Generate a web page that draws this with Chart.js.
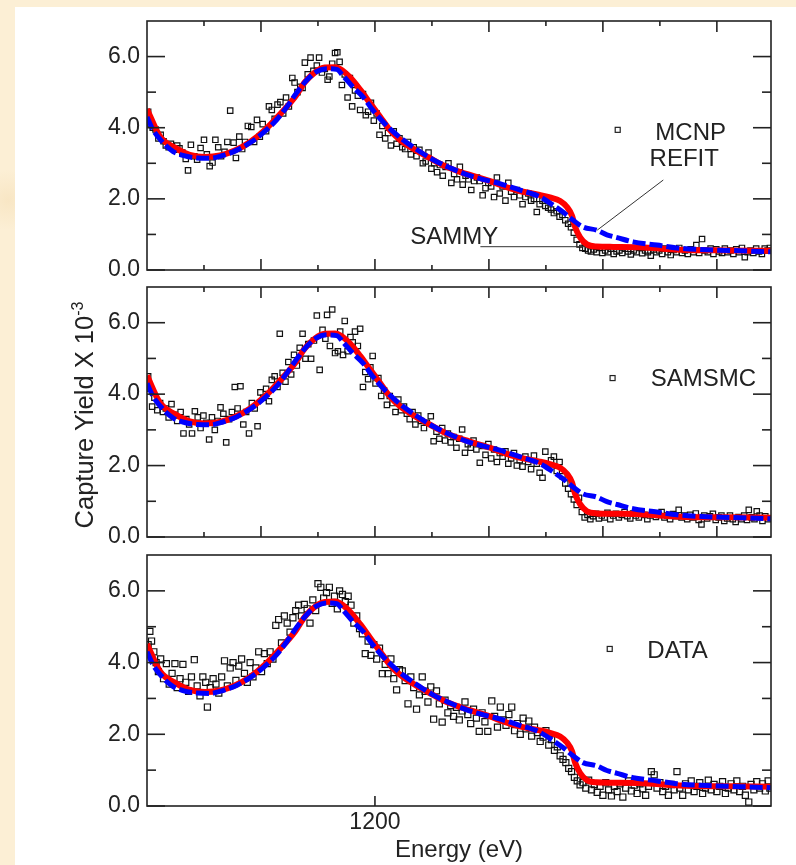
<!DOCTYPE html>
<html>
<head>
<meta charset="utf-8">
<script src="https://cdn.jsdelivr.net/npm/chart.js@4.4.0/dist/chart.umd.min.js"></script>
<style>
  html, body { margin: 0; padding: 0; }
  body {
    width: 796px; height: 865px; position: relative; overflow: hidden;
    background: #fcefd5;
    background-image: radial-gradient(circle at 8px 200px, #f8e6c4 0, #fcefd5 30px),
                      radial-gradient(circle at 6px 600px, #f9e8c8 0, #fcefd5 40px);
  }
  #paper { position: absolute; left: 15px; top: 7px; width: 781px; height: 858px; background: #fff; }
  canvas { position: absolute; left: 15px; }
  #ytitle {
    position: absolute; left: -60px; top: 400px; width: 290px; height: 30px;
    line-height: 30px; text-align: center; white-space: nowrap;
    font: 25.5px "Liberation Sans", Arial, sans-serif; color: #222;
    transform: rotate(-90deg);
  }
  #ytitle sup { font-size: 16px; vertical-align: 10px; line-height: 0; }
</style>
</head>
<body>
<div id="paper"></div>
<canvas id="c1" width="781" height="300" style="top:0px"></canvas>
<canvas id="c2" width="781" height="296" style="top:266px"></canvas>
<canvas id="c3" width="781" height="331" style="top:534px"></canvas>
<div id="ytitle">Capture Yield X 10<sup>-3</sup></div>
<script>
// SAMMY fit (red) and REFIT (blue), energy in eV, yield x 1e-3
const sammyE = [1160.0, 1162.3, 1164.9, 1167.5, 1170.2, 1172.8, 1175.4, 1178.1, 1180.7, 1183.3, 1186.0, 1187.7,
  1189.5, 1191.2, 1193.0, 1193.9, 1195.6, 1197.4, 1199.1, 1200.9, 1202.6, 1204.4, 1207.0, 1209.6, 1212.3, 1214.9,
  1217.5, 1220.2, 1222.0, 1225.4, 1228.9, 1230.7, 1232.5, 1233.7, 1234.6, 1235.1, 1236.0, 1237.2, 1238.9, 1241.8,
  1246.5, 1253.5, 1262.0, 1269.5];
const sammyY = [4.52, 3.75, 3.44, 3.24, 3.18, 3.22, 3.36, 3.6, 3.94, 4.37, 4.87, 5.28,
  5.56, 5.69, 5.7, 5.65, 5.42, 5.07, 4.7, 4.31, 3.94, 3.66, 3.38, 3.15, 2.92, 2.76,
  2.63, 2.5, 2.39, 2.22, 2.11, 2.04, 1.94, 1.77, 1.52, 1.22, 0.92, 0.72, 0.66, 0.65,
  0.64, 0.57, 0.55, 0.54];

const refitE = [1160.0, 1161.05, 1162.8, 1164.6, 1166.3, 1168.8, 1171.1, 1173.3, 1175.8, 1178.1, 1180.4, 1182.8,
  1184.6, 1186.3, 1188.1, 1189.8, 1191.6, 1193.3, 1194.4, 1196.1, 1197.9, 1199.6, 1201.4, 1203.2, 1204.9, 1207.4,
  1210.2, 1213.2, 1216.1, 1218.9, 1221.9, 1225.4, 1228.9, 1231.2, 1233.0, 1234.7, 1236.5, 1238.9, 1240.7, 1242.5,
  1245.3, 1249.5, 1253.0, 1258.2, 1264.0, 1269.5];
const refitY = [4.3, 3.94, 3.58, 3.33, 3.22, 3.15, 3.14, 3.22, 3.37, 3.58, 3.86, 4.23,
  4.6, 4.99, 5.35, 5.58, 5.66, 5.64, 5.46, 5.15, 4.87, 4.5, 4.17, 3.89, 3.66, 3.38,
  3.1, 2.87, 2.68, 2.55, 2.43, 2.25, 2.06, 1.83, 1.63, 1.41, 1.21, 1.12, 0.99, 0.91,
  0.79, 0.7, 0.62, 0.57, 0.54, 0.51];

// simulated / measured yields [E, yield]
const mcnp = [[1160.2,4.45],[1160.6,4.1],[1161.0,4.0],[1161.5,3.95],[1162.0,3.7],[1162.4,3.8],[1162.9,3.62],[1163.3,3.5],
  [1163.8,3.45],[1164.2,3.55],[1164.8,3.38],[1165.3,3.5],[1165.7,3.42],[1166.2,3.3],[1166.8,3.12],[1167.2,2.8],
  [1167.7,3.52],[1168.3,3.2],[1168.8,3.1],[1169.4,3.43],[1170.0,3.66],[1170.5,3.25],[1171.0,2.92],[1171.5,3.02],
  [1172.0,3.66],[1172.5,3.45],[1173.0,3.2],[1173.6,3.32],[1174.1,3.6],[1174.6,4.48],[1175.2,3.58],[1175.6,3.15],
  [1176.2,3.75],[1176.7,3.4],[1177.2,3.6],[1177.7,4.05],[1178.3,4.02],[1178.8,3.6],[1179.3,4.22],[1179.8,3.75],
  [1180.3,4.1],[1180.9,3.9],[1181.4,4.6],[1181.9,4.5],[1182.4,4.25],[1182.9,4.65],[1183.4,4.72],[1183.9,4.4],
  [1184.4,4.85],[1184.9,4.6],[1185.5,5.4],[1185.9,5.27],[1186.4,5.0],[1186.9,5.15],[1187.3,5.12],[1187.7,5.83],
  [1188.2,5.5],[1188.7,5.97],[1189.2,5.6],[1189.8,5.75],[1190.2,5.97],[1190.7,5.55],[1191.2,5.65],[1191.7,5.35],
  [1192.0,5.44],[1192.5,5.8],[1193.0,6.1],[1193.4,6.12],[1193.8,5.85],[1194.2,5.2],[1194.7,5.5],[1195.2,4.85],
  [1195.6,5.4],[1196.0,4.6],[1196.5,5.05],[1197.0,4.9],[1197.4,4.5],[1197.9,4.95],[1198.4,4.35],[1198.8,4.45],
  [1199.3,4.7],[1199.8,4.2],[1200.3,4.4],[1200.8,3.8],[1201.3,4.05],[1201.8,3.7],[1202.3,3.85],[1202.8,3.5],
  [1203.3,3.9],[1203.8,3.55],[1204.3,3.7],[1204.8,3.45],[1205.3,3.4],[1205.8,3.6],[1206.3,3.25],[1206.8,3.45],
  [1207.3,3.2],[1207.8,3.38],[1208.4,3.0],[1208.9,3.05],[1209.4,3.3],[1209.9,2.85],[1210.4,3.0],[1210.9,2.75],
  [1211.4,2.95],[1211.9,2.65],[1212.4,2.9],[1212.9,3.0],[1213.4,2.45],[1213.9,2.7],[1214.4,2.55],[1214.9,2.9],
  [1215.4,2.4],[1215.9,2.65],[1216.4,2.55],[1216.9,2.25],[1217.4,2.5],[1217.9,2.6],[1218.4,2.5],[1218.9,2.1],
  [1219.4,2.3],[1219.9,2.45],[1220.4,2.35],[1220.9,2.05],[1221.4,2.6],[1221.9,2.15],[1222.4,2.35],[1222.9,1.95],
  [1223.4,2.45],[1223.9,2.2],[1224.4,2.05],[1224.9,2.25],[1225.4,2.1],[1225.9,1.85],[1226.4,2.05],[1226.9,2.15],
  [1227.4,1.95],[1227.9,2.0],[1228.4,1.63],[1228.9,1.85],[1229.4,1.95],[1229.9,1.8],[1230.4,1.75],[1230.9,1.7],
  [1231.4,1.6],[1231.9,1.65],[1232.4,1.5],[1232.9,1.55],[1233.4,1.4],[1233.9,1.3],[1234.4,1.2],[1234.9,1.05],
  [1235.4,0.85],[1235.9,0.72],[1236.4,0.62],[1236.9,0.6],[1237.4,0.55],[1237.9,0.52],[1238.4,0.58],[1238.9,0.5],
  [1239.4,0.62],[1239.9,0.48],[1240.4,0.55],[1240.9,0.5],[1241.4,0.6],[1241.9,0.45],[1242.4,0.52],[1242.9,0.55],
  [1243.4,0.48],[1243.9,0.6],[1244.4,0.52],[1244.9,0.44],[1245.4,0.55],[1245.9,0.5],[1246.4,0.62],[1246.9,0.47],
  [1247.4,0.55],[1247.9,0.5],[1248.4,0.4],[1248.9,0.58],[1249.4,0.5],[1249.9,0.55],[1250.4,0.45],[1250.9,0.6],
  [1251.4,0.5],[1251.9,0.42],[1252.4,0.56],[1252.9,0.5],[1253.4,0.62],[1253.9,0.48],[1254.4,0.55],[1254.9,0.45],
  [1255.4,0.58],[1255.9,0.5],[1256.4,0.7],[1256.9,0.48],[1257.4,0.87],[1257.9,0.55],[1258.4,0.5],[1258.9,0.6],
  [1259.4,0.45],[1259.9,0.58],[1260.4,0.52],[1260.9,0.48],[1261.4,0.6],[1261.9,0.5],[1262.4,0.55],[1262.9,0.45],
  [1263.4,0.58],[1263.9,0.5],[1264.4,0.62],[1264.9,0.36],[1265.4,0.5],[1265.9,0.55],[1266.4,0.48],[1266.9,0.6],
  [1267.4,0.52],[1267.9,0.45],[1268.4,0.6],[1268.9,0.55],[1269.3,0.62]];

const samsmc = [[1160.2,4.5],[1160.5,4.15],[1160.9,3.65],[1161.3,3.9],[1161.8,3.55],[1162.3,3.75],[1162.8,3.5],
  [1163.3,3.6],[1163.8,3.35],[1164.3,3.72],[1164.8,3.42],[1165.3,3.25],[1165.9,3.5],[1166.4,2.9],[1166.9,3.3],
  [1167.4,3.15],[1167.9,2.9],[1168.4,3.52],[1168.9,3.35],[1169.4,3.05],[1169.9,3.4],[1170.4,3.2],[1170.9,2.73],
  [1171.4,3.35],[1171.9,3.0],[1172.4,3.25],[1172.9,3.63],[1173.4,3.45],[1173.9,2.65],[1174.4,3.3],[1174.9,3.5],
  [1175.4,4.2],[1175.9,3.6],[1176.4,4.22],[1176.9,3.15],[1177.4,3.5],[1177.9,2.9],[1178.4,3.75],[1178.9,3.6],
  [1179.4,3.1],[1179.9,4.05],[1180.4,3.9],[1180.9,4.15],[1181.4,3.8],[1181.9,4.4],[1182.4,4.5],[1182.9,4.2],
  [1183.3,5.69],[1183.8,4.6],[1184.3,4.35],[1184.8,4.9],[1185.3,4.55],[1185.8,5.1],[1186.3,4.8],[1186.8,5.3],
  [1187.3,5.69],[1187.8,4.99],[1188.3,5.4],[1188.8,4.99],[1189.3,5.5],[1189.8,6.2],[1190.3,4.68],[1190.8,5.8],
  [1191.3,5.55],[1191.6,6.22],[1192.1,5.35],[1192.5,6.37],[1193.0,5.15],[1193.5,5.2],[1193.9,5.75],[1194.4,5.1],
  [1194.7,6.05],[1195.2,5.2],[1195.7,5.6],[1196.1,5.45],[1196.5,5.75],[1197.0,5.35],[1197.4,5.83],[1197.9,4.2],
  [1198.3,4.62],[1198.8,4.42],[1199.2,4.75],[1199.6,5.07],[1200.1,4.3],[1200.6,4.45],[1201.1,3.95],[1201.6,4.1],
  [1202.1,3.7],[1202.6,3.95],[1203.1,3.75],[1203.6,3.5],[1204.1,3.85],[1204.6,3.55],[1205.1,3.65],[1205.6,3.45],
  [1206.1,3.3],[1206.6,3.5],[1207.1,3.15],[1207.6,3.4],[1208.1,3.25],[1208.6,3.05],[1209.1,3.2],[1209.8,3.38],
  [1210.3,2.68],[1210.8,2.95],[1211.3,2.75],[1211.8,3.05],[1212.3,2.7],[1212.8,2.9],[1213.3,2.65],[1213.8,2.8],
  [1214.3,2.5],[1214.8,2.75],[1215.3,3.01],[1215.8,2.36],[1216.3,2.6],[1216.8,2.5],[1217.3,2.7],[1217.8,2.45],
  [1218.4,2.08],[1218.9,2.55],[1219.4,2.3],[1219.9,2.6],[1220.4,2.2],[1220.9,2.45],[1221.4,2.1],[1221.9,2.35],
  [1222.4,2.25],[1222.9,2.4],[1223.4,2.05],[1223.9,2.2],[1224.4,2.35],[1224.9,2.0],[1225.4,2.15],[1225.9,1.97],
  [1226.4,2.25],[1226.9,2.1],[1227.4,1.9],[1227.9,2.28],[1228.4,2.05],[1228.9,1.8],[1229.4,1.66],[1229.9,2.39],
  [1230.4,2.0],[1230.9,2.15],[1231.4,2.25],[1231.9,1.85],[1232.4,2.1],[1232.9,1.7],[1233.4,1.5],[1233.9,1.35],
  [1234.4,1.2],[1234.9,1.05],[1235.4,0.9],[1235.8,1.1],[1236.3,0.7],[1236.8,0.55],[1237.3,0.62],[1237.8,0.5],
  [1238.3,0.58],[1238.8,0.65],[1239.3,0.52],[1239.8,0.6],[1240.3,0.55],[1240.8,0.68],[1241.3,0.5],[1241.8,0.6],
  [1242.3,0.65],[1242.8,0.55],[1243.3,0.62],[1243.8,0.7],[1244.3,0.58],[1244.8,0.52],[1245.3,0.66],[1245.8,0.6],
  [1246.3,0.55],[1246.8,0.7],[1247.3,0.62],[1247.8,0.5],[1248.3,0.6],[1248.8,0.66],[1249.3,0.56],[1249.8,0.62],
  [1250.3,0.7],[1250.8,0.55],[1251.3,0.6],[1251.8,0.5],[1252.3,0.64],[1252.8,0.58],[1253.3,0.76],[1253.8,0.55],
  [1254.3,0.6],[1254.8,0.5],[1255.3,0.62],[1255.8,0.55],[1256.3,0.66],[1256.8,0.48],[1257.3,0.35],[1257.8,0.6],
  [1258.3,0.52],[1258.8,0.58],[1259.3,0.65],[1259.8,0.48],[1260.3,0.55],[1260.8,0.6],[1261.3,0.45],[1261.8,0.52],
  [1262.3,0.6],[1262.8,0.5],[1263.3,0.42],[1263.8,0.56],[1264.3,0.5],[1264.8,0.6],[1265.3,0.48],[1265.6,0.76],
  [1266.1,0.55],[1266.6,0.5],[1267.0,0.72],[1267.5,0.6],[1268.0,0.45],[1268.5,0.58],[1269.0,0.5]];

const data = [[1160.2,4.5],[1160.5,4.87],[1160.8,4.6],[1161.2,4.3],[1161.6,4.0],[1162.0,3.75],[1162.4,4.1],
  [1162.9,3.55],[1163.4,3.97],[1163.9,3.4],[1164.4,3.7],[1164.9,3.97],[1165.3,3.3],[1165.8,3.55],[1166.3,3.95],
  [1166.8,3.45],[1167.3,3.2],[1167.8,3.6],[1168.3,4.08],[1168.8,3.35],[1169.3,3.07],[1169.8,3.6],[1170.3,3.45],
  [1170.6,2.76],[1171.1,3.3],[1171.6,3.55],[1172.1,3.4],[1172.6,3.15],[1173.1,3.6],[1173.6,4.05],[1174.1,3.35],
  [1174.6,3.85],[1175.1,4.0],[1175.6,3.5],[1176.1,3.9],[1176.6,4.1],[1177.1,3.7],[1177.6,3.45],[1178.1,4.0],
  [1178.6,3.6],[1179.1,3.85],[1179.6,4.3],[1180.1,3.75],[1180.6,4.25],[1181.1,3.97],[1181.6,4.3],[1182.1,4.1],
  [1182.6,5.04],[1183.1,5.2],[1183.6,4.55],[1184.1,5.3],[1184.6,5.1],[1185.1,4.85],[1185.6,5.25],[1186.1,5.45],
  [1186.6,5.6],[1187.1,5.3],[1187.6,5.62],[1188.1,5.5],[1188.6,5.1],[1189.1,5.75],[1189.6,5.45],[1190.0,6.2],
  [1190.5,6.1],[1191.0,5.8],[1191.5,5.95],[1192.0,6.1],[1192.5,5.65],[1192.9,5.85],[1193.4,5.5],[1193.8,6.0],
  [1194.3,5.9],[1194.8,5.7],[1195.3,5.85],[1195.8,5.6],[1196.3,5.1],[1196.8,5.3],[1197.3,4.95],[1197.8,4.8],
  [1198.3,4.25],[1198.8,4.6],[1199.3,4.2],[1199.8,4.5],[1200.3,4.1],[1200.8,4.4],[1201.3,3.69],[1201.8,3.95],
  [1202.3,3.69],[1202.8,4.1],[1203.3,3.55],[1203.8,3.24],[1204.3,3.8],[1204.8,3.77],[1205.3,3.5],[1205.8,2.85],
  [1206.3,3.6],[1206.8,3.3],[1207.3,2.7],[1207.8,3.1],[1208.3,3.6],[1208.8,3.2],[1209.3,2.9],[1209.8,3.32],
  [1210.3,2.42],[1210.8,3.21],[1211.3,2.85],[1211.8,2.34],[1212.3,2.95],[1212.8,2.6],[1213.3,2.8],[1213.8,2.5],
  [1214.3,2.75],[1214.8,2.4],[1215.3,2.65],[1215.8,2.9],[1216.3,2.55],[1216.8,2.3],[1217.3,2.7],[1217.8,2.45],
  [1218.3,2.08],[1218.8,2.6],[1219.3,2.35],[1219.8,2.08],[1220.5,2.93],[1221.0,2.5],[1221.5,2.2],[1222.0,2.76],
  [1222.5,2.4],[1223.0,2.25],[1223.5,2.55],[1224.0,2.76],[1224.5,2.1],[1225.0,2.3],[1225.5,2.0],[1226.0,2.45],
  [1226.5,2.15],[1227.0,2.37],[1227.5,1.95],[1228.0,2.2],[1228.5,2.05],[1229.0,1.8],[1229.5,1.92],[1230.0,2.1],
  [1230.5,1.7],[1231.0,1.85],[1231.5,1.55],[1232.0,1.65],[1232.5,1.4],[1233.0,1.3],[1233.5,1.21],[1234.0,1.05],
  [1234.5,0.96],[1235.0,0.8],[1235.5,0.7],[1236.0,0.59],[1236.5,0.65],[1237.0,0.5],[1237.5,0.72],[1238.0,0.45],
  [1238.5,0.6],[1239.0,0.38],[1239.5,0.55],[1240.0,0.3],[1240.5,0.65],[1241.0,0.45],[1241.5,0.28],[1242.0,0.55],
  [1242.5,0.4],[1243.0,0.62],[1243.5,0.25],[1244.0,0.5],[1244.5,0.7],[1245.0,0.42],[1245.5,0.58],[1246.0,0.35],
  [1246.5,0.62],[1247.0,0.48],[1247.5,0.3],[1248.0,0.55],[1248.5,0.96],[1249.0,0.87],[1249.5,0.5],[1250.0,0.65],
  [1250.5,0.4],[1251.0,0.55],[1251.5,0.3],[1252.0,0.6],[1252.5,0.45],[1253.0,0.96],[1253.5,0.5],[1254.0,0.3],
  [1254.5,0.62],[1255.0,0.45],[1255.5,0.7],[1256.0,0.4],[1256.5,0.55],[1257.0,0.65],[1257.5,0.35],[1258.0,0.5],
  [1258.5,0.72],[1259.0,0.45],[1259.5,0.6],[1260.0,0.4],[1260.5,0.55],[1261.0,0.68],[1261.5,0.35],[1262.0,0.5],
  [1262.5,0.62],[1263.0,0.45],[1263.5,0.7],[1264.0,0.4],[1264.5,0.55],[1265.0,0.3],[1265.6,0.11],[1266.0,0.6],
  [1266.5,0.45],[1267.0,0.68],[1267.5,0.5],[1268.0,0.62],[1268.5,0.42],[1269.0,0.7],[1269.3,0.5]];

// axis ticks
const yMajor = [0, 2, 4, 6];
const yLabels = ['0.0', '2.0', '4.0', '6.0'];
const yMinor = [1, 3, 5];
const xMajor = [1180, 1200, 1220, 1240, 1260];
const xMinor = [1170, 1190, 1210, 1230, 1250];
const xLabeled = [1200];

Chart.defaults.font.family = '"Liberation Sans", Arial, sans-serif';
Chart.defaults.color = '#222';

const toXY = (es, ys) => es.map((e, i) => ({ x: e, y: ys[i] }));
const toPts = arr => arr.map(p => ({ x: p[0], y: p[1] }));

// frame, inward ticks, legend and labels
const framePlugin = {
  id: 'frame',
  afterDraw(chart, args, o) {
    const { ctx, chartArea: a, scales: { x, y } } = chart;
    ctx.save();
    ctx.strokeStyle = '#222';
    ctx.lineWidth = 1.6;
    ctx.strokeRect(a.left, a.top, a.right - a.left, a.bottom - a.top);
    const seg = (x1, y1, x2, y2) => { ctx.beginPath(); ctx.moveTo(x1, y1); ctx.lineTo(x2, y2); ctx.stroke(); };
    yMajor.concat(yMinor).forEach(v => {
      const len = v % 2 === 0 ? 18 : 9;
      const py = y.getPixelForValue(v);
      seg(a.left, py, a.left + len, py);
      seg(a.right - len, py, a.right, py);
    });
    o.xTicks.forEach(([v, len]) => {
      const px = x.getPixelForValue(v);
      seg(px, a.top, px, a.top + len);
      seg(px, a.bottom, px, a.bottom - len);
    });
    // legend
    ctx.lineWidth = 1.2;
    const mx = x.getPixelForValue(o.legend.mx), my = y.getPixelForValue(o.legend.my);
    ctx.strokeRect(mx - 2.5, my - 2.5, 5, 5);
    ctx.fillStyle = '#222';
    ctx.font = '24px "Liberation Sans", Arial, sans-serif';
    ctx.textBaseline = 'middle';
    ctx.fillText(o.legend.text, x.getPixelForValue(o.legend.tx), y.getPixelForValue(o.legend.ty));
    if (o.notes) {
      ctx.strokeStyle = '#333';
      ctx.lineWidth = 1;
      seg(x.getPixelForValue(1218.5), y.getPixelForValue(0.655), x.getPixelForValue(1236.8), y.getPixelForValue(0.655));
      seg(x.getPixelForValue(1250.6), y.getPixelForValue(2.53), x.getPixelForValue(1239.0), y.getPixelForValue(1.12));
      ctx.fillText('SAMMY', x.getPixelForValue(1206.2), y.getPixelForValue(0.93));
      ctx.fillText('REFIT', x.getPixelForValue(1248.2), y.getPixelForValue(3.12));
    }
    ctx.restore();
  }
};

function makeChart(id, pts, ptRadius, opts) {
  const xScale = {
    type: 'linear', min: 1160, max: 1269.5,
    display: opts.showX,
    grid: { display: false, drawTicks: false },
    border: { display: false },
    afterBuildTicks: s => { s.ticks = xLabeled.map(v => ({ value: v })); },
    ticks: { padding: 3, font: { size: 23 }, color: '#222', callback: v => String(v) },
    title: { display: true, text: 'Energy (eV)', font: { size: 24 }, color: '#222', padding: { top: 0, bottom: 0 } }
  };
  if (opts.showX) xScale.afterFit = s => { s.height = opts.xHeight; };
  return new Chart(document.getElementById(id), {
    type: 'scatter',
    data: {
      datasets: [
        { data: toXY(refitE, refitY), showLine: true, borderColor: '#0000ff', borderWidth: 5,
          borderDash: [13, 4], pointRadius: 0, cubicInterpolationMode: 'monotone' },
        { data: toXY(sammyE, sammyY), showLine: true, borderColor: '#ff0000', borderWidth: 6,
          pointRadius: 0, cubicInterpolationMode: 'monotone' },
        { data: toPts(pts), pointStyle: 'rect', pointRadius: ptRadius, pointBorderWidth: 1.2,
          pointBorderColor: '#111', pointBackgroundColor: 'rgba(255,255,255,0)' }
      ]
    },
    options: {
      responsive: false, animation: false, devicePixelRatio: 1, events: [],
      layout: { autoPadding: false, padding: { left: 0, right: 25, top: opts.top, bottom: opts.bottom } },
      plugins: { legend: { display: false }, tooltip: { enabled: false },
        frame: { xTicks: opts.xTicks, legend: opts.legend, notes: opts.notes } },
      scales: {
        x: xScale,
        y: {
          min: 0, max: 7,
          grid: { display: false, drawTicks: false },
          border: { display: false },
          afterFit: s => { s.width = 132; },
          afterBuildTicks: s => { s.ticks = yMajor.map(v => ({ value: v })); },
          ticks: { autoSkip: false, padding: 7, font: { size: 23 }, color: '#222',
            callback: (v, i) => yLabels[i] }
        }
      }
    },
    plugins: [framePlugin]
  });
}

const fullTicks = xMajor.map(v => [v, 11]).concat(xMinor.map(v => [v, 5]));

makeChart('c1', mcnp, 3.8, {
  showX: false, top: 21, bottom: 30, xTicks: fullTicks, notes: true,
  legend: { text: 'MCNP', mx: 1242.6, my: 3.94, tx: 1249.2, ty: 3.85 }
});
makeChart('c2', samsmc, 3.8, {
  showX: false, top: 21, bottom: 25, xTicks: fullTicks, notes: false,
  legend: { text: 'SAMSMC', mx: 1241.7, my: 4.45, tx: 1248.4, ty: 4.4 }
});
makeChart('c3', data, 4.3, {
  showX: true, xHeight: 59, top: 21, bottom: 0, xTicks: xLabeled.map(v => [v, 10]), notes: false,
  legend: { text: 'DATA', mx: 1241.2, my: 4.38, tx: 1247.8, ty: 4.32 }
});
</script>
</body>
</html>
